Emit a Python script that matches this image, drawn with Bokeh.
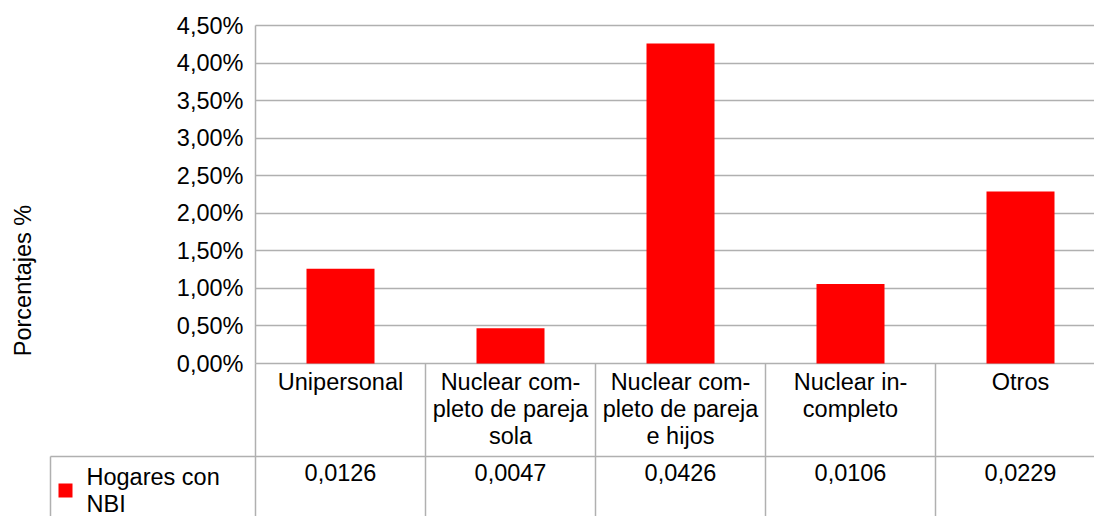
import math
from bokeh.plotting import figure
from bokeh.models import Range1d, FixedTicker, CustomJSTickFormatter, Grid
from bokeh.core.properties import value
from bokeh.embed import file_html
from bokeh.resources import INLINE

# ---- data ----
categories = [
    "Unipersonal",
    "Nuclear com-\npleto de pareja\nsola",
    "Nuclear com-\npleto de pareja\ne hijos",
    "Nuclear in-\ncompleto",
    "Otros",
]
series_name = "Hogares con\nNBI"
values = [0.0126, 0.0047, 0.0426, 0.0106, 0.0229]
y_ticks = [0.0, 0.005, 0.01, 0.015, 0.02, 0.025, 0.03, 0.035, 0.04, 0.045]
y_label = "Porcentajes %"

# ---- layout constants (image pixels) ----
FONT = "Liberation Sans"
FS = "23.5px"
LH = 1.04
GRID = "#b0b0b0"
LW = 1.5
W, H = 1094, 516
OFF = 0              # observed page offset
AX_X = 255           # axis position in image px
ZERO_Y = 363         # y of 0 in image px
CAT = 170            # px per category
YMAX = y_ticks[-1]
ppu = (ZERO_Y - 25) / YMAX   # px per unit


def px(img_x):
    return (img_x - AX_X) / CAT


def py(img_y):
    return (ZERO_Y - img_y) / ppu


x_start, x_end = px(OFF), px(OFF + W)
y_top, y_bot = py(OFF), py(OFF + H)

n = len(categories)
xc = [i + 0.5 for i in range(n)]

p = figure(width=W, height=H,
           x_range=Range1d(x_start, x_end), y_range=Range1d(y_bot, y_top),
           x_axis_location=None, output_backend="svg", toolbar_location=None,
           min_border=0)
p.outline_line_color = None
p.background_fill_color = "white"

# y axis drawn at x = 0
yax = p.yaxis[0]
yax.fixed_location = 0
yax.bounds = (0, YMAX)
yax.ticker = FixedTicker(ticks=y_ticks)
yax.formatter = CustomJSTickFormatter(code="return (tick*100).toFixed(2).replace('.', ',') + '%';")
yax.major_tick_out = 0
yax.major_tick_in = 0
yax.minor_tick_out = 0
yax.minor_tick_in = 0
yax.major_label_standoff = 12
yax.axis_line_color = GRID
yax.axis_line_width = LW
yax.major_label_text_font = FONT
yax.major_label_text_font_size = FS
yax.major_label_text_color = "black"

# grid
p.xgrid.grid_line_color = None
p.ygrid.grid_line_color = None
if "cross_bounds" in Grid.properties():
    g = Grid(dimension=1, ticker=FixedTicker(ticks=y_ticks), grid_line_color=GRID,
             grid_line_width=LW, cross_bounds=(0, x_end), bounds=(0, YMAX))
    p.add_layout(g)
else:
    p.segment(x0=[0] * len(y_ticks), y0=y_ticks, x1=[x_end] * len(y_ticks), y1=y_ticks,
              line_color=GRID, line_width=LW)

# bars
p.vbar(x=xc, top=values, width=0.4, bottom=0, fill_color="#ff0000", line_color=None)

# y label
p.text(x=[px(22)], y=[py(280)], text=[y_label], angle=math.pi / 2,
       text_align="center", text_baseline="middle", text_font=value(FONT),
       text_font_size=FS, text_color="black")

# ---- data table ----
legend_left = px(50)
row_y = py(456)
p.segment(x0=list(range(n)), y0=[0] * n, x1=list(range(n)), y1=[y_bot] * n,
          line_color=GRID, line_width=LW)
p.segment(x0=[legend_left, legend_left], y0=[row_y, row_y], x1=[x_end, legend_left], y1=[row_y, y_bot],
          line_color=GRID, line_width=LW)

p.text(x=xc, y=[py(368)] * n, text=categories, text_align="center", text_baseline="top",
       text_font=value(FONT), text_font_size=FS, text_line_height=LH, text_color="black")
p.text(x=xc, y=[py(463)] * n, text=[f"{v:.4f}".replace(".", ",") for v in values],
       text_align="center", text_baseline="top",
       text_font=value(FONT), text_font_size=FS, text_line_height=LH, text_color="black")
p.text(x=[px(86)], y=[py(463)], text=[series_name], text_align="left", text_baseline="top",
       text_font=value(FONT), text_font_size=FS, text_line_height=LH, text_color="black")
p.scatter(x=[px(65)], y=[py(490)], marker="square", size=14,
          fill_color="#ff0000", line_color=None)

open("out.html", "w").write(file_html(p, INLINE))
